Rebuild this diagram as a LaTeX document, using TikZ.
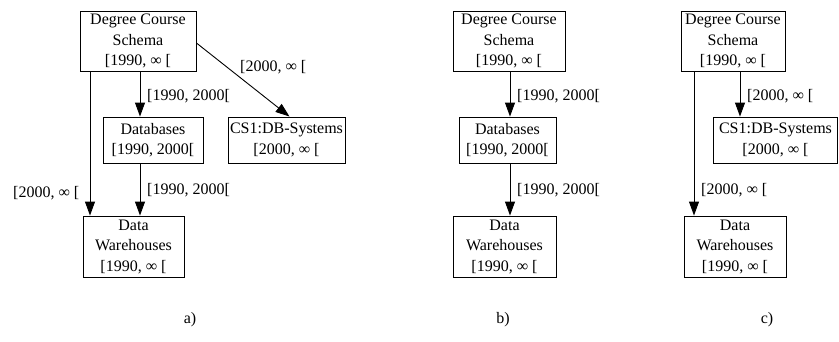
\documentclass[tikz,border=0pt]{standalone}
\usepackage{fontspec}
\setmainfont{Liberation Serif}
\usetikzlibrary{arrows.meta}
\begin{document}
\begin{tikzpicture}[x=1pt,y=-1pt,
  font=\fontsize{16}{20.5}\selectfont,
  box/.style={draw,line width=0.9pt,align=center,inner sep=0pt,minimum width=#1},
  box3/.style={box=#1,minimum height=60pt},
  box2/.style={box=#1,minimum height=46pt},
  arr/.style={line width=0.9pt,-{Triangle[length=14pt,width=10pt]}},
  lbl/.style={anchor=west,inner sep=0pt},
  captext/.style={inner sep=0pt}]
\useasboundingbox (0,0) rectangle (839,341);
% ---- a)
\node[box3=116pt] (dcsA) at (138,41) {Degree Course\\Schema\\{}[1990, ∞ [};
\node[box2=100pt] (dbA) at (153,140) {Databases\\{}[1990, 2000[};
\node[box2=117pt] (csA) at (286.5,140) {CS1:DB-Systems\\{}[2000, ∞ [};
\node[box3=101pt,minimum height=61pt] (dwA) at (133.5,246.5) {Data\\Warehouses\\{}[1990, ∞ [};
\draw[arr] (dcsA.south -| 90,0) -- (dwA.north -| 90,0);
\draw[arr] (dcsA.south -| 140,0) -- (dbA.north -| 140,0);
\draw[arr] (dbA.south -| 140,0) -- (dwA.north -| 140,0);
\draw[arr] ([yshift=-2pt]dcsA.east) -- ([xshift=3pt]csA.north);
\node[lbl] (lA1) at (147,96) {[1990, 2000[};
\node[lbl] (lA2) at (147,190) {[1990, 2000[};
\node[lbl] (lA3) at (240,67) {[2000, ∞ [};
\node[lbl] (lA4) at (13,193) {[2000, ∞ [};
% ---- b)
\node[box3=112pt] (dcsB) at (509,41) {Degree Course\\Schema\\{}[1990, ∞ [};
\node[box2=97pt] (dbB) at (507.5,140) {Databases\\{}[1990, 2000[};
\node[box3=103pt,minimum height=61pt] (dwB) at (504.5,246.5) {Data\\Warehouses\\{}[1990, ∞ [};
\draw[arr] (dcsB.south -| 510,0) -- (dbB.north -| 510,0);
\draw[arr] (dbB.south -| 510,0) -- (dwB.north -| 510,0);
\node[lbl] (lB1) at (517,96) {[1990, 2000[};
\node[lbl] (lB2) at (517,190) {[1990, 2000[};
% ---- c)
\node[box3=104pt] (dcsC) at (733,41) {Degree Course\\Schema\\{}[1990, ∞ [};
\node[box2=124pt] (csC) at (775.5,140) {CS1:DB-Systems\\{}[2000, ∞ [};
\node[box3=102pt,minimum height=61pt] (dwC) at (735,246.5) {Data\\Warehouses\\{}[1990, ∞ [};
\draw[arr] (dcsC.south -| 694,0) -- (dwC.north -| 694,0);
\draw[arr] (dcsC.south -| 740,0) -- (csC.north -| 740,0);
\node[lbl] (lC1) at (747,96) {[2000, ∞ [};
\node[lbl] (lC2) at (701,190) {[2000, ∞ [};
% ---- captions
\node[captext] (capA) at (190,320) {a)};
\node[captext] (capB) at (503,320) {b)};
\node[captext] (capC) at (767,320) {c)};
\end{tikzpicture}
\end{document}
